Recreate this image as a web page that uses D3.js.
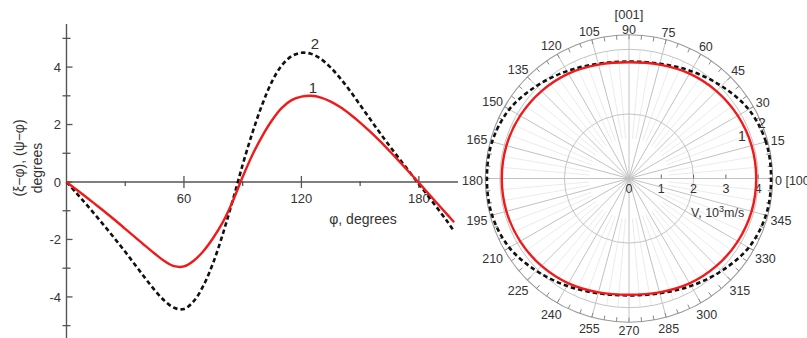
<!DOCTYPE html>
<html>
<head>
<meta charset="utf-8">
<script src="https://cdn.jsdelivr.net/npm/d3@7"></script>
<style>
  body { margin: 0; background: #fff; }
  svg { display: block; font-family: "Liberation Sans", Arial, sans-serif; }
</style>
</head>
<body>
<svg id="chart" width="807" height="338"></svg>
<script>
// ---------- Left panel: angular deviations versus phi ----------
const phiDeg = [0,5,10,15,20,25,30,35,40,45,50,55,60,65,70,75,80,85,90,95,100,
                105,110,115,120,125,130,135,140,145,150,155,160,165,170,175,180,185,190,195,198];
// curve 1: (xi - phi), degrees
const xiMinusPhi = [0,-0.26,-0.52,-0.79,-1.06,-1.34,-1.63,-1.92,-2.21,-2.49,-2.75,-2.93,-2.94,-2.74,-2.4,-1.94,-1.38,-0.66,
                    0.18,0.95,1.6,2.15,2.58,2.85,2.97,3.0,2.94,2.8,2.6,2.35,2.07,1.76,1.43,1.08,0.72,0.35,-0.03,-0.41,-0.79,-1.17,-1.4];
// curve 2: (psi - phi), degrees
const psiMinusPhi = [0,-0.38,-0.77,-1.17,-1.58,-2.0,-2.43,-2.88,-3.33,-3.76,-4.13,-4.38,-4.42,-4.15,-3.6,-2.8,-1.78,-0.62,
                     0.6,1.72,2.7,3.5,4.06,4.38,4.5,4.46,4.28,3.98,3.6,3.16,2.68,2.2,1.72,1.26,0.81,0.37,-0.07,-0.51,-0.96,-1.42,-1.72];
const yMajorTicks = [-4,-2,0,2,4];
const yMinorTicks = [-5,-3,-1,1,3,5];
const xMajorTicks = [60,120,180];
const xMinorTicks = [30,90,150];

// ---------- Right panel: polar velocity curves ----------
const polarAngles = [0,15,30,45,60,75,90,105,120,135,150,165,180,195,210,225,240,255,270,285,300,315,330,345];
// curve 1, V in 10^3 m/s
const velocity1 = [3.94,3.93,3.89,3.83,3.75,3.65,3.6,3.65,3.75,3.83,3.89,3.93,3.94,3.93,3.89,3.83,3.75,3.65,3.6,3.65,3.75,3.83,3.89,3.93];
// curve 2, V in 10^3 m/s
const velocity2 = [4.4,4.39,4.28,4.05,3.84,3.68,3.62,3.68,3.84,4.05,4.28,4.39,4.4,4.39,4.28,4.05,3.84,3.68,3.62,3.68,3.84,4.05,4.28,4.39];
const radialTicks = [0,1,2,3,4];
const gridRadii = [2,4];
const angleLabels = polarAngles.map(a => String(a));

const RED = "#f01a1a", INK = "#333", AXIS = "#555";
const svg = d3.select("#chart");

// ===== left panel =====
const x = d3.scaleLinear().domain([0, 200]).range([66.5, 458]);
const y = d3.scaleLinear().domain([-5.5, 5.5]).range([340, 24]);
const L = svg.append("g");

// axes lines
L.append("line").attr("x1", x(0)).attr("x2", x(200)).attr("y1", y(0)).attr("y2", y(0))
  .attr("stroke", AXIS).attr("stroke-width", 1.4);
L.append("line").attr("x1", x(0)).attr("x2", x(0)).attr("y1", y(5.5)).attr("y2", y(-5.5))
  .attr("stroke", AXIS).attr("stroke-width", 1.4);

// y ticks
L.selectAll(".ymaj").data(yMajorTicks).join("line")
  .attr("x1", x(0)).attr("x2", x(0) + 6).attr("y1", d => y(d)).attr("y2", d => y(d))
  .attr("stroke", AXIS).attr("stroke-width", 1.3);
L.selectAll(".ymin").data(yMinorTicks).join("line")
  .attr("x1", x(0) - 4).attr("x2", x(0) + 4).attr("y1", d => y(d)).attr("y2", d => y(d))
  .attr("stroke", AXIS).attr("stroke-width", 1.3);
L.selectAll(".ylab").data(yMajorTicks).join("text")
  .attr("x", 61).attr("y", d => y(d)).attr("dy", "0.36em")
  .attr("text-anchor", "end").attr("font-size", 13).attr("fill", INK)
  .text(d => d < 0 ? "-" + Math.abs(d) : String(d));

// x ticks
L.selectAll(".xmaj").data(xMajorTicks).join("line")
  .attr("x1", d => x(d)).attr("x2", d => x(d)).attr("y1", y(0) - 6).attr("y2", y(0) + 6)
  .attr("stroke", AXIS).attr("stroke-width", 1.3);
L.selectAll(".xmin").data(xMinorTicks).join("line")
  .attr("x1", d => x(d)).attr("x2", d => x(d)).attr("y1", y(0) - 1).attr("y2", y(0) + 4)
  .attr("stroke", AXIS).attr("stroke-width", 1.3);
L.selectAll(".xlab").data(xMajorTicks).join("text")
  .attr("x", d => x(d)).attr("y", y(0) + 21)
  .attr("text-anchor", "middle").attr("font-size", 13).attr("fill", INK)
  .text(d => String(d));

// axis titles
L.append("text").attr("x", 363).attr("y", 224).attr("text-anchor", "middle")
  .attr("font-size", 14).attr("fill", INK).text("φ, degrees");
L.append("text").attr("transform", "translate(24,158) rotate(-90)").attr("text-anchor", "middle")
  .attr("font-size", 14).attr("fill", INK).text("(ξ−φ), (ψ−φ)");
L.append("text").attr("transform", "translate(42,168) rotate(-90)").attr("text-anchor", "middle")
  .attr("font-size", 14).attr("fill", INK).text("degrees");

// curves
const line = d3.line().x(d => x(d[0])).y(d => y(d[1])).curve(d3.curveCatmullRom.alpha(0.5));
L.append("path").datum(phiDeg.map((p, i) => [p, psiMinusPhi[i]]))
  .attr("d", line).attr("fill", "none").attr("stroke", "#111")
  .attr("stroke-width", 2.6).attr("stroke-dasharray", "4.5,3");
L.append("path").datum(phiDeg.map((p, i) => [p, xiMinusPhi[i]]))
  .attr("d", line).attr("fill", "none").attr("stroke", RED).attr("stroke-width", 2.4);

L.append("text").attr("x", 313).attr("y", 93).attr("text-anchor", "middle")
  .attr("font-size", 15).attr("fill", INK).text("1");
L.append("text").attr("x", 315).attr("y", 49).attr("text-anchor", "middle")
  .attr("font-size", 15).attr("fill", INK).text("2");

// ===== right panel =====
const cx = 629, cy = 178.5;
const r = d3.scaleLinear().domain([0, 4.45]).range([0, 143.7]);
const P = svg.append("g").attr("transform", `translate(${cx},${cy})`);
const rad = a => a * Math.PI / 180;
const px = (a, v) => Math.cos(rad(a)) * v;
const py = (a, v) => -Math.sin(rad(a)) * v;
const Rmax = r(4.45);

// minor spokes every 5 degrees
const minorSpokes = d3.range(0, 360, 5).filter(a => a % 15 !== 0);
P.selectAll(".mspoke").data(minorSpokes).join("line")
  .attr("x1", a => px(a, 40)).attr("y1", a => py(a, 40))
  .attr("x2", a => px(a, r(4))).attr("y2", a => py(a, r(4)))
  .attr("stroke", "#e6e6e6").attr("stroke-width", 0.8);

// grid circles
P.selectAll(".gcirc").data(gridRadii).join("circle")
  .attr("r", d => r(d)).attr("fill", "none").attr("stroke", "#c4c4c4").attr("stroke-width", 1);

// major spokes every 15 degrees
P.selectAll(".spoke").data(polarAngles).join("line")
  .attr("x1", 0).attr("y1", 0)
  .attr("x2", a => px(a, Rmax)).attr("y2", a => py(a, Rmax))
  .attr("stroke", "#c2c2c2").attr("stroke-width", 1);

// outer rim with inward ticks
P.append("circle").attr("r", Rmax).attr("fill", "none").attr("stroke", "#9a9a9a").attr("stroke-width", 1.1);
P.selectAll(".rtick").data(d3.range(0, 360, 5)).join("line")
  .attr("x1", a => px(a, Rmax)).attr("y1", a => py(a, Rmax))
  .attr("x2", a => px(a, Rmax - 4.5)).attr("y2", a => py(a, Rmax - 4.5))
  .attr("stroke", "#8a8a8a").attr("stroke-width", 1);

// radial axis ticks and labels along 0 degrees
P.selectAll(".vtick").data(radialTicks.filter(d => d > 0)).join("line")
  .attr("x1", d => r(d)).attr("x2", d => r(d)).attr("y1", 0).attr("y2", -4)
  .attr("stroke", "#666").attr("stroke-width", 1);
P.selectAll(".vlab").data(radialTicks).join("text")
  .attr("x", d => r(d)).attr("y", 14)
  .attr("text-anchor", "middle").attr("font-size", 12.5).attr("fill", INK)
  .text(d => String(d));
const vt = P.append("text").attr("x", 62).attr("y", 38).attr("font-size", 12.5).attr("fill", INK);
vt.append("tspan").text("V, 10");
vt.append("tspan").attr("dy", -5).attr("font-size", 9).text("3");
vt.append("tspan").attr("dy", 5).text("m/s");

// angular labels
angleLabels.forEach((t, i) => {
  const a = polarAngles[i];
  const w = t.length * 7;
  const c = Math.abs(Math.cos(rad(a))), s = Math.abs(Math.sin(rad(a)));
  const rr = 146 + (w / 2) * c + 4.8 * s;
  const lx = px(a, rr), ly = py(a, rr) + 1.5;
  if (a === 0) {
    P.append("text").attr("x", lx - w / 2).attr("y", ly).attr("dy", "0.36em")
      .attr("font-size", 12.5).attr("fill", INK).text("0 [100]");
  } else {
    P.append("text").attr("x", lx).attr("y", ly).attr("dy", "0.36em")
      .attr("text-anchor", "middle").attr("font-size", 12.5).attr("fill", INK).text(t);
  }
});
P.append("text").attr("x", 0).attr("y", -160).attr("text-anchor", "middle")
  .attr("font-size", 13).attr("fill", INK).text("[001]");

// velocity curves
const polarLine = d3.lineRadial()
  .angle(d => rad(90 - d[0]))
  .radius(d => r(d[1]))
  .curve(d3.curveCatmullRomClosed.alpha(0.5));
P.append("path").datum(polarAngles.map((a, i) => [a, velocity2[i]]))
  .attr("d", polarLine).attr("fill", "none").attr("stroke", "#111")
  .attr("stroke-width", 2.6).attr("stroke-dasharray", "4.5,3");
P.append("path").datum(polarAngles.map((a, i) => [a, velocity1[i]]))
  .attr("d", polarLine).attr("fill", "none").attr("stroke", RED).attr("stroke-width", 2.4);

P.append("text").attr("x", 113).attr("y", -38).attr("text-anchor", "middle")
  .attr("font-size", 14).attr("fill", INK).text("1");
P.append("text").attr("x", 133).attr("y", -51).attr("text-anchor", "middle")
  .attr("font-size", 14).attr("fill", INK).text("2");
</script>
</body>
</html>
